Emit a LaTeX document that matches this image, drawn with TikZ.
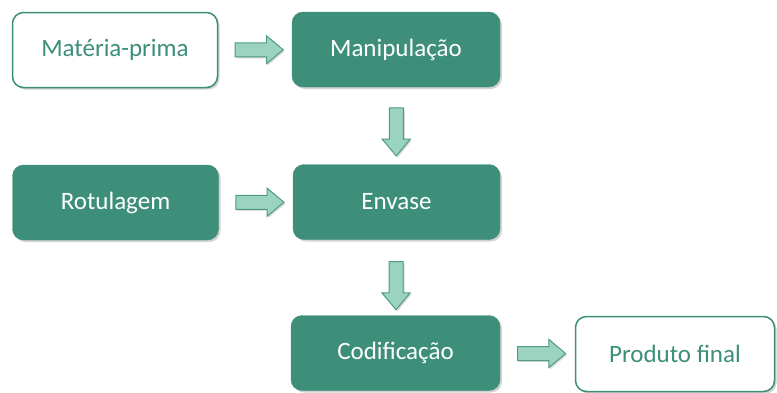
\documentclass[tikz,border=0pt]{standalone}
\usepackage{fontspec}
\setmainfont{Carlito}
\usetikzlibrary{shapes.arrows,shadows,calc}
\definecolor{boxgreen}{HTML}{3D8F7A}
\definecolor{arrfill}{HTML}{9AD4C1}
\definecolor{arredge}{HTML}{4E9A84}
\tikzset{
  base/.style={rounded corners=11pt, minimum height=75pt, inner sep=0pt,
    font=\fontsize{25}{30}\selectfont, drop shadow={shadow xshift=2pt, shadow yshift=-2pt, opacity=0.35}},
  filledbox/.style={base, fill=boxgreen, draw=boxgreen, text=white},
  openbox/.style={base, fill=white, draw=boxgreen, line width=1.5pt, text=boxgreen},
  blockarrow/.style={single arrow, draw=arredge, fill=arrfill, line width=1pt,
    single arrow head extend=7pt, single arrow tip angle=80, minimum height=48pt, inner sep=0pt,
    drop shadow={shadow xshift=1.5pt, shadow yshift=-1.5pt, opacity=0.3}},
}
\newcommand{\shaft}{\rule{13pt}{13pt}}
\begin{document}
\begin{tikzpicture}[x=1pt,y=-1pt]
\useasboundingbox (0,0) rectangle (777,392);
\node[openbox, minimum width=205pt] (mp) at (115,50) {Matéria-prima};
\node[filledbox, minimum width=208pt] (man) at (396,49.5) {Manipulação};
\node[filledbox, minimum width=206pt] (rot) at (115.5,202.5) {Rotulagem};
\node[filledbox, minimum width=207pt] (env) at (396.5,202) {Envase};
\node[filledbox, minimum width=209pt] (cod) at (395.5,353) {Codificação};
\node[openbox, minimum width=199pt] (pf) at (675,354) {Produto final};
\node[blockarrow] (a1) at ($(mp.east)!0.5!(man.west)$) {\phantom{\shaft}};
\node[blockarrow] (a2) at ($(rot.east)!0.5!(env.west)$) {\phantom{\shaft}};
\node[blockarrow, shape border rotate=270] (a3) at ($(man.south)!0.5!(env.north)+(0,2)$) {\phantom{\shaft}};
\node[blockarrow, shape border rotate=270] (a4) at ($(env.south)!0.5!(cod.north)+(0,4)$) {\phantom{\shaft}};
\node[blockarrow] (a5) at ($(cod.east)!0.5!(pf.west)$) {\phantom{\shaft}};
\end{tikzpicture}
\end{document}
